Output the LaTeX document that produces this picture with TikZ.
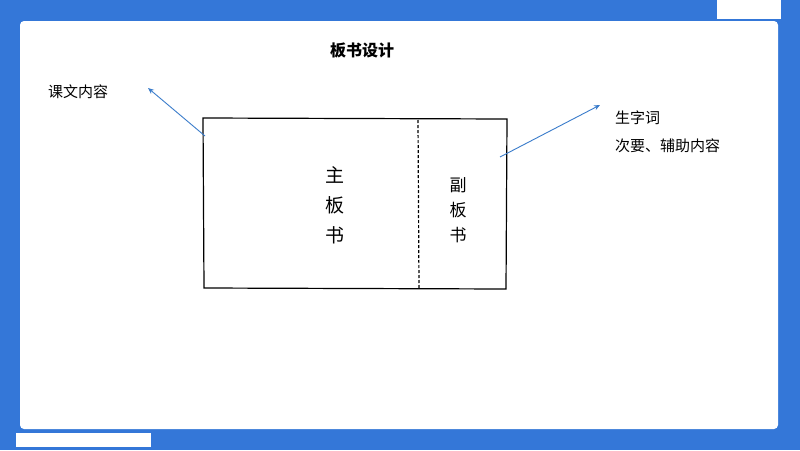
\documentclass[tikz,border=0pt]{standalone}
\usepackage{fontspec}
\newfontfamily\cjk{Noto Sans CJK SC}
\usetikzlibrary{arrows.meta}
\definecolor{bgblue}{HTML}{3477D8}
\definecolor{arrblue}{HTML}{3A7CCB}
\tikzset{
  lbl/.style={font=\cjk\fontsize{15}{17}\selectfont, anchor=west, inner sep=0pt},
  hand/.style={font=\cjk\fontsize{19}{24}\selectfont, align=center, inner sep=0pt},
  conn/.style={arrblue, line width=0.9pt, -{Stealth[length=6pt,width=5pt]}},
  boxline/.style={black, line width=1.2pt}
}
\begin{document}
\begin{tikzpicture}[x=1pt,y=-1pt]
\useasboundingbox (0,0) rectangle (800,450);
\fill[bgblue] (0,0) rectangle (800,450);
\fill[white, rounded corners=4pt] (20,21) rectangle (778,429);
\fill[white] (717,0) rectangle (781,19);
\fill[white] (16,433) rectangle (151,447);
\node[font=\cjk\bfseries\fontsize{16}{18}\selectfont] (title) at (362,50) {板书设计};
% board
\draw[boxline] (203,118) -- (507,119) -- (506,289) -- (204,288) -- cycle;
\draw[boxline, dashed, dash pattern=on 3pt off 2pt] (418,120) -- (419,288);
\coordinate (bl) at (205,136);
\coordinate (br) at (500,157);
\node[hand] (main) at (335,205) {主\\[6pt]板\\[6pt]书};
\node[hand, font=\cjk\fontsize{17}{21}\selectfont] (sub) at (458,210) {副\\[4pt]板\\[4pt]书};
\node[lbl] (kw) at (48,92) {课文内容};
\node[lbl] (sz) at (615,118) {生字词};
\node[lbl] (cy) at (615,146) {次要、辅助内容};
\coordinate (tl) at (148,88);
\coordinate (tr) at (600,105);
\draw[conn] (bl) -- (tl);
\draw[conn] (br) -- (tr);
\end{tikzpicture}
\end{document}
